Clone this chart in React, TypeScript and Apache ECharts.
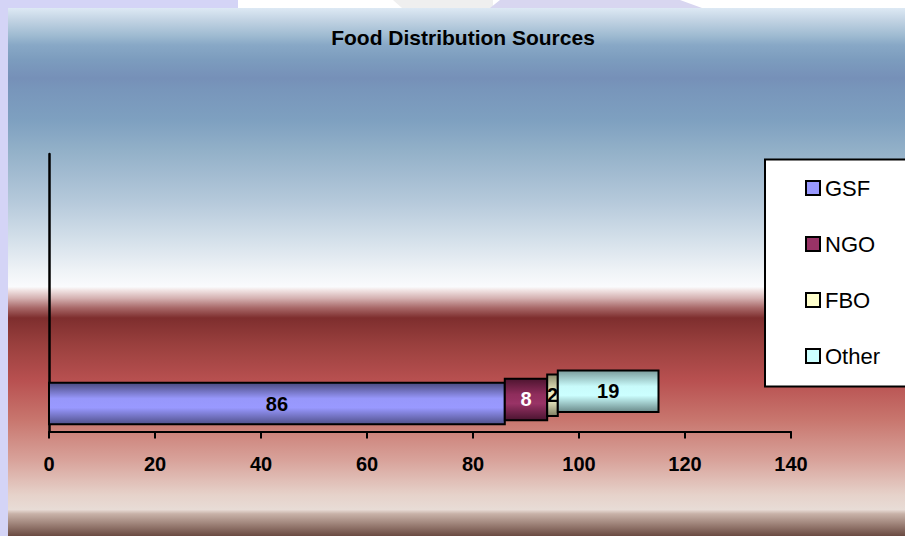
import React, { useEffect, useRef } from 'react';
import * as echarts from 'echarts';

const title = 'Food Distribution Sources';
const categories = ['GSF', 'NGO', 'FBO', 'Other'];
const values = [86, 8, 2, 19];
const rowLabels = ['Sources'];
const xMin = 0;
const xMax = 140;
const xStep = 20;

const legendColors = ['#9999ff', '#993366', '#ffffcc', '#ccffff'];
const barGradients = [
  ['#4a4a80', '#9797fb', '#9999ff', '#50508a'],
  ['#4e1530', '#8f2d5c', '#993366', '#4a1430'],
  ['#8a8a6c', '#e6e6bc', '#f0f0c6', '#7e7e62'],
  ['#7a9c9c', '#c8fafa', '#ccffff', '#6a8a8a'],
];
const labelColors = ['#000000', '#ffffff', '#000000', '#000000'];

const FONT = '"Liberation Sans", Arial, sans-serif';

export default function App() {
  const ref = useRef<HTMLDivElement>(null);

  useEffect(() => {
    if (!ref.current) return;
    const chart = echarts.init(ref.current, null, { renderer: 'svg' });

    const starts: number[] = [];
    let acc = 0;
    values.forEach((v) => {
      starts.push(acc);
      acc += v;
    });

    const series = categories.map((name, i) => ({
      name,
      type: 'custom',
      z: 2 + i,
      encode: { x: [0, 1], y: 2 },
      itemStyle: { color: legendColors[i] },
      data: [[starts[i], starts[i] + values[i], 0]],
      renderItem: (params: any, api: any) => {
        const s = api.value(0);
        const e = api.value(1);
        const p0 = api.coord([s, 0]);
        const p1 = api.coord([e, 0]);
        const band = api.size([0, 1])[1];
        const h = 41.5;
        const bottom = p0[1] + band * 0.474 - i * 4.1;
        const top = bottom - h;
        const g = barGradients[i];
        return {
          type: 'group',
          children: [
            {
              type: 'rect',
              shape: { x: p0[0], y: top, width: p1[0] - p0[0], height: h },
              style: {
                fill: new echarts.graphic.LinearGradient(0, 0, 0, 1, [
                  { offset: 0, color: g[0] },
                  { offset: 0.38, color: g[1] },
                  { offset: 0.6, color: g[2] },
                  { offset: 1, color: g[3] },
                ]),
                stroke: '#000',
                lineWidth: 2,
              },
            },
            {
              type: 'text',
              style: {
                text: String(values[i]),
                x: (p0[0] + p1[0]) / 2,
                y: top + h / 2,
                align: 'center',
                verticalAlign: 'middle',
                fill: labelColors[i],
                font: `bold 20px ${FONT}`,
              },
            },
          ],
        };
      },
    }));

    const option: any = {
      animation: false,
      backgroundColor: '#d4d4f6',
      graphic: [
        { type: 'rect', z: -20, shape: { x: 238, y: 0, width: 700, height: 8 }, style: { fill: '#ffffff' } },
        { type: 'polygon', z: -19, shape: { points: [[393, 0], [493, 0], [493, 8], [402, 8]] }, style: { fill: '#efefef' } },
        { type: 'polygon', z: -19, shape: { points: [[500, 0], [680, 0], [702, 8], [490, 8]] }, style: { fill: '#d8d6f0' } },
        {
          type: 'rect',
          z: -18,
          shape: { x: 8, y: 8, width: 905, height: 528 },
          style: {
            fill: new echarts.graphic.LinearGradient(0, 0, 0, 1, [
              { offset: 0, color: '#dde9f4' },
              { offset: 0.023, color: '#c2d3e3' },
              { offset: 0.051, color: '#a0bcd2' },
              { offset: 0.07, color: '#88a8c6' },
              { offset: 0.098, color: '#7c9cbe' },
              { offset: 0.133, color: '#7690b8' },
              { offset: 0.155, color: '#7896bb' },
              { offset: 0.212, color: '#7ea0c0' },
              { offset: 0.269, color: '#92b0c8' },
              { offset: 0.364, color: '#b4c8da' },
              { offset: 0.439, color: '#d4e0ea' },
              { offset: 0.496, color: '#eef2f6' },
              { offset: 0.528, color: '#fafbfd' },
              { offset: 0.535, color: '#f0e2e2' },
              { offset: 0.55, color: '#d4b0b0' },
              { offset: 0.568, color: '#a86868' },
              { offset: 0.587, color: '#7e2e2e' },
              { offset: 0.638, color: '#9a403e' },
              { offset: 0.705, color: '#b85050' },
              { offset: 0.78, color: '#c8766e' },
              { offset: 0.856, color: '#d8a29a' },
              { offset: 0.922, color: '#e6d2ca' },
              { offset: 0.95, color: '#e8dcd6' },
              { offset: 0.958, color: '#c8b2a8' },
              { offset: 0.979, color: '#9a7e74' },
              { offset: 1, color: '#6a4a42' },
            ]),
          },
        },
        {
          type: 'rect',
          z: -5,
          shape: { x: 765, y: 159.5, width: 160, height: 227 },
          style: { fill: '#ffffff', stroke: '#000000', lineWidth: 2 },
        },
        {
          type: 'text',
          z: 10,
          style: {
            text: title,
            x: 463,
            y: 37,
            align: 'center',
            verticalAlign: 'middle',
            fill: '#000',
            font: `bold 21px ${FONT}`,
          },
        },
      ],
      grid: { left: 49, top: 154, right: 114, bottom: 104.5, containLabel: false },
      xAxis: {
        type: 'value',
        min: xMin,
        max: xMax,
        interval: xStep,
        axisLine: { show: true, lineStyle: { color: '#000', width: 2 } },
        axisTick: { show: true, length: 7, lineStyle: { color: '#000', width: 2 } },
        axisLabel: { fontSize: 20, fontWeight: 'bold', color: '#000', margin: 22, fontFamily: FONT },
        splitLine: { show: false },
      },
      yAxis: {
        type: 'category',
        data: rowLabels,
        axisLine: { show: true, lineStyle: { color: '#000', width: 2.5 } },
        axisTick: { show: false },
        axisLabel: { show: false },
        splitLine: { show: false },
      },
      legend: {
        orient: 'vertical',
        left: 805,
        top: 177,
        padding: 0,
        itemGap: 34,
        itemWidth: 14,
        itemHeight: 14,
        icon: 'rect',
        selectedMode: false,
        textStyle: { fontSize: 22, lineHeight: 22, color: '#000', fontFamily: FONT },
        data: categories.map((c, i) => ({
          name: c,
          itemStyle: { color: legendColors[i], borderColor: '#000', borderWidth: 2 },
        })),
      },
      series,
    };

    chart.setOption(option);
    return () => chart.dispose();
  }, []);

  return (
    <div
      ref={ref}
      style={{ position: 'fixed', left: 0, top: 0, width: 905, height: 536 }}
    />
  );
}
